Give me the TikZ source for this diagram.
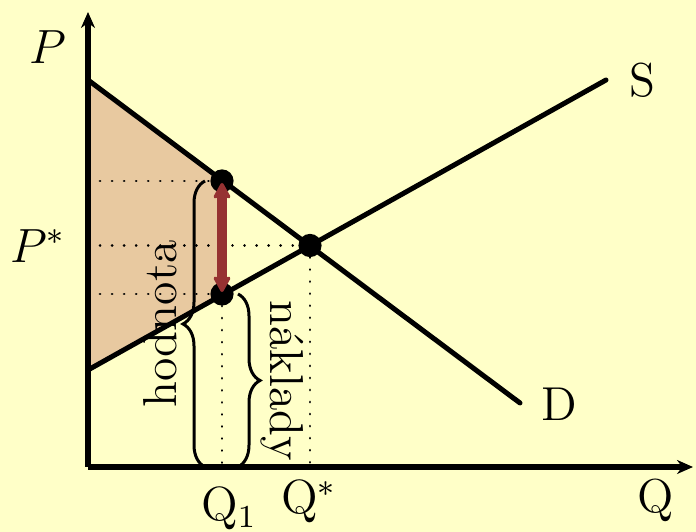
\documentclass[tikz,border=0pt]{standalone}
\usetikzlibrary{arrows.meta,decorations.pathreplacing}
\definecolor{bgyellow}{RGB}{255,255,200}
\definecolor{surplus}{RGB}{232,201,160}
\definecolor{gapred}{RGB}{150,50,50}
\begin{document}
\begin{tikzpicture}[x=0.25pt,y=-0.25pt,
  lbl/.style={inner sep=0pt,font=\fontsize{11.9}{14}\selectfont},
  axis/.style={line width=1.5pt,-{Stealth[length=4pt,width=3.5pt]}},
  curve/.style={line width=1.25pt,line cap=round},
  guide/.style={line width=0.7pt,dash pattern=on 0.01pt off 3pt,line cap=round},
  bigdot/.style={circle,fill=black,inner sep=0pt,minimum size=5.8pt},
  bracestyle/.style={line width=0.75pt,decorate,decoration={brace,amplitude=5.5pt}}]
\fill[bgyellow] (0,0) rectangle (696,532);
\useasboundingbox (0,0) rectangle (696,532);
% coordinates
\coordinate (O) at (88,467);
\coordinate (Ytop) at (88,12);
\coordinate (Xend) at (693,467);
\coordinate (D1) at (88,80);
\coordinate (D2) at (520,403);
\coordinate (S1) at (88,370);
\coordinate (S2) at (606,80);
\coordinate (A) at (222,181);
\coordinate (B) at (222,294);
\coordinate (E) at (310,245.5);
\coordinate (PA) at (88,181);
\coordinate (PE) at (88,245.5);
\coordinate (PB) at (88,294);
\coordinate (QB) at (222,467);
\coordinate (QE) at (310,467);
% surplus area
\fill[surplus] (D1) -- (A) -- (B) -- (S1) -- cycle;
% guides
\draw[guide] (PA) -- (A);
\draw[guide] (PE) -- (E);
\draw[guide] (PB) -- (B);
\draw[guide] (B) -- (QB);
\draw[guide] (E) -- (QE);
% curves
\draw[curve] (D1) -- (D2);
\draw[curve] (S1) -- (S2);
% axes
\draw[axis] (O) -- (Ytop);
\draw[axis] (O) -- (Xend);
% dots
\node[bigdot] (dA) at (A) {};
\node[bigdot] (dB) at (B) {};
\node[bigdot] (dE) at (E) {};
% red arrow
\draw[gapred,line width=2.4pt,{Stealth[round,length=5pt,width=5.5pt]}-{Stealth[round,length=5pt,width=5.5pt]}] ([yshift=-0.5pt]A) -- ([yshift=0.5pt]B);
% braces
\coordinate (hb1) at (205,467);
\coordinate (hb2) at (205,181);
\draw[bracestyle] (hb1) -- (hb2);
\coordinate (nb1) at (238,294);
\coordinate (nb2) at (238,467);
\draw[bracestyle] (nb1) -- (nb2);
% labels
\node[lbl,rotate=90] (hod) at (160,324) {hodnota};
\node[lbl,rotate=-90] (nak) at (282,381) {náklady};
\node[lbl] (Plab) at (48,47) {$P$};
\node[lbl] (Pst) at (38,246) {$P^*$};
\node[lbl] (Qlab) at (656,500) {Q};
\node[lbl] (Q1) at (229,509) {$\mathrm{Q}_1$};
\node[lbl] (Qst) at (309,502) {$\mathrm{Q}^*$};
\node[lbl] (Slab) at (642,80) {S};
\node[lbl] (Dlab) at (559,404) {D};
\end{tikzpicture}
\end{document}
